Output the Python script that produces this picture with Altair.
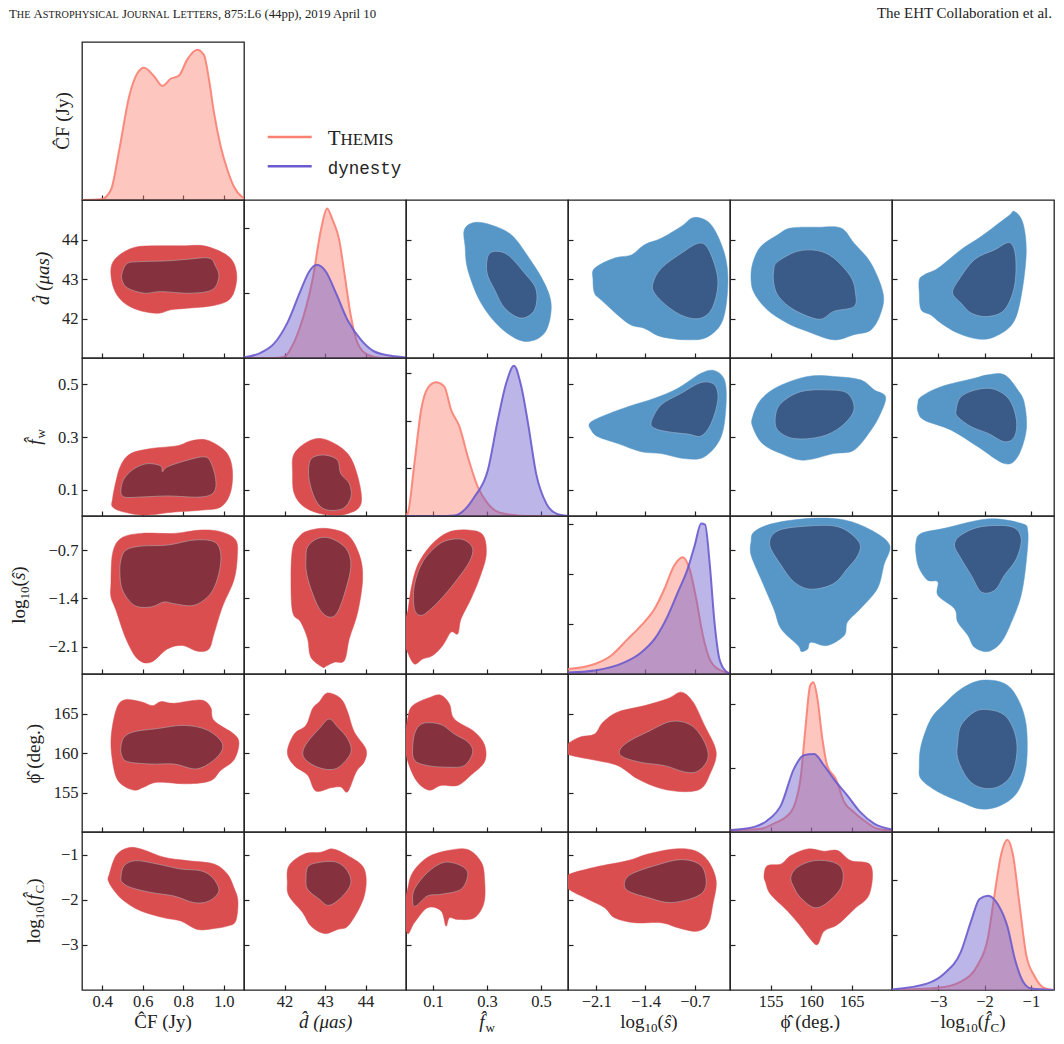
import altair as alt
import pandas as pd

# ---------------------------------------------------------------- parameters
PARAMS = ["cf", "d", "fw", "logs", "phi", "logfc"]
DOMAIN = {"cf": [0.3, 1.1], "d": [41.0, 45.0], "fw": [0.0, 0.6],
          "logs": [-2.5, -0.2], "phi": [150.0, 170.0], "logfc": [-4.0, -0.5]}
TICKS = {"cf": [0.4, 0.6, 0.8, 1.0], "d": [42, 43, 44], "fw": [0.1, 0.3, 0.5],
         "logs": [-2.1, -1.4, -0.7], "phi": [155, 160, 165], "logfc": [-3, -2, -1]}
FMT = {"cf": ".1f", "d": "d", "fw": ".1f", "logs": ".1f", "phi": "d", "logfc": "d"}
DENS_DOMAIN = {"cf": [0, 2.45], "d": [0, 1.215], "fw": [0, 6.63],
               "logs": [0, 3.15], "phi": [0, 0.247], "logfc": [0, 1.44]}
DENS_TICKS = {"cf": [], "d": [0.5, 1.0], "fw": [2, 4, 6], "logs": [1, 2, 3],
              "phi": [0.1, 0.2], "logfc": [0.5, 1.0]}

# ---------------------------------------------------------------- 1D marginals
KDE_CF_THEMIS = [(0.30, 0.0), (0.394, 0.01), (0.443, 0.16), (0.484, 0.78), (0.533, 1.61),
                 (0.574, 1.97), (0.606, 2.05), (0.656, 1.92), (0.697, 1.77), (0.738, 1.88),
                 (0.779, 1.93), (0.82, 2.18), (0.869, 2.33), (0.902, 2.25), (0.927, 1.87),
                 (0.952, 1.35), (0.985, 0.83), (1.018, 0.47), (1.05, 0.21), (1.09, 0.05), (1.10, 0.03)]
KDE_D_THEMIS = [(41.0, 0.0), (41.74, 0.0), (42.0, 0.01), (42.16, 0.075), (42.36, 0.217),
                (42.69, 0.60), (42.90, 0.986), (43.05, 1.15), (43.19, 1.06), (43.35, 0.91),
                (43.48, 0.65), (43.64, 0.32), (43.81, 0.11), (44.05, 0.025), (44.4, 0.0), (45.0, 0.0)]
KDE_D_DYNESTY = [(41.0, 0.005), (41.41, 0.04), (41.74, 0.11), (42.07, 0.27), (42.40, 0.52),
                 (42.61, 0.665), (42.80, 0.717), (43.02, 0.665), (43.27, 0.50), (43.56, 0.29),
                 (43.89, 0.14), (44.22, 0.05), (44.63, 0.017), (45.0, 0.004)]
KDE_FW_THEMIS = [(0.0, 0.05), (0.006, 0.1), (0.031, 2.2), (0.056, 4.45), (0.08, 5.36),
                 (0.111, 5.61), (0.142, 5.43), (0.167, 4.45), (0.198, 3.75), (0.229, 2.48),
                 (0.266, 1.22), (0.303, 0.52), (0.34, 0.17), (0.39, 0.05), (0.45, 0.0), (0.6, 0.0)]
KDE_FW_DYNESTY = [(0.0, 0.0), (0.10, 0.0), (0.15, 0.005), (0.18, 0.02), (0.22, 0.3),
                  (0.253, 0.8), (0.303, 1.92), (0.34, 4.03), (0.371, 5.57), (0.40, 6.30),
                  (0.427, 5.43), (0.452, 3.89), (0.482, 1.78), (0.52, 0.52), (0.557, 0.1), (0.6, 0.0)]
KDE_LOGS_THEMIS = [(-2.5, 0.1), (-2.12, 0.2), (-1.886, 0.37), (-1.65, 0.70), (-1.46, 0.97),
                   (-1.27, 1.30), (-1.13, 1.70), (-0.99, 2.17), (-0.87, 2.33), (-0.775, 2.10),
                   (-0.68, 1.50), (-0.585, 0.77), (-0.49, 0.30), (-0.37, 0.10), (-0.2, 0.02)]
KDE_LOGS_DYNESTY = [(-2.5, 0.03), (-2.12, 0.07), (-1.70, 0.23), (-1.46, 0.43), (-1.27, 0.70),
                    (-1.08, 1.17), (-0.94, 1.63), (-0.80, 2.10), (-0.70, 2.57), (-0.61, 3.0),
                    (-0.553, 2.98), (-0.49, 2.23), (-0.42, 1.03), (-0.35, 0.30), (-0.255, 0.05), (-0.2, 0.01)]
KDE_PHI_THEMIS = [(150.1, 0.003), (153.8, 0.005), (155.4, 0.013), (157.5, 0.031), (158.7, 0.083),
                  (159.3, 0.161), (159.9, 0.229), (160.3, 0.234), (160.8, 0.208), (161.4, 0.146),
                  (162.0, 0.104), (163.05, 0.083), (164.1, 0.047), (165.3, 0.031), (166.75, 0.016),
                  (168.2, 0.005), (170.0, 0.002)]
KDE_PHI_DYNESTY = [(150.1, 0.003), (153.0, 0.008), (154.6, 0.018), (156.3, 0.042), (157.9, 0.099),
                   (159.1, 0.12), (160.4, 0.122), (161.6, 0.104), (162.8, 0.083), (164.5, 0.057),
                   (166.1, 0.031), (167.8, 0.013), (170.0, 0.004)]
KDE_FC_THEMIS = [(-4.0, 0.0), (-3.01, 0.02), (-2.51, 0.077), (-2.145, 0.23), (-1.93, 0.47),
                 (-1.785, 0.87), (-1.64, 1.24), (-1.51, 1.37), (-1.39, 1.24), (-1.245, 0.78),
                 (-1.10, 0.32), (-0.92, 0.126), (-0.70, 0.016), (-0.5, 0.0)]
KDE_FC_DYNESTY = [(-4.0, 0.005), (-3.23, 0.06), (-2.87, 0.15), (-2.51, 0.35), (-2.29, 0.63),
                  (-2.11, 0.83), (-1.93, 0.86), (-1.71, 0.78), (-1.50, 0.57), (-1.35, 0.29),
                  (-1.17, 0.077), (-0.99, 0.013), (-0.5, 0.0)]

# ---------------------------------------------------------------- THEMIS credible regions (x = column, y = row)
TH_D_CF_OUT = [(0.443, 43.27), (0.476, 43.57), (0.558, 43.80), (0.673, 43.84), (0.796, 43.84), (0.902, 43.84),
               (1.001, 43.65), (1.05, 43.40), (1.064, 42.98), (1.034, 42.51), (0.952, 42.33), (0.82, 42.26),
               (0.738, 42.22), (0.673, 42.13), (0.574, 42.22), (0.50, 42.43), (0.456, 42.77)]
TH_D_CF_IN = [(0.50, 43.19), (0.525, 43.40), (0.591, 43.44), (0.722, 43.46), (0.82, 43.50), (0.927, 43.53),
              (0.96, 43.32), (0.976, 43.06), (0.944, 42.73), (0.837, 42.64), (0.689, 42.68), (0.607, 42.64),
              (0.525, 42.77), (0.497, 42.98)]
TH_FW_CF_OUT = [(0.451, 0.066), (0.467, 0.13), (0.492, 0.193), (0.541, 0.237), (0.64, 0.256), (0.771, 0.267),
                (0.837, 0.285), (0.919, 0.288), (1.01, 0.244), (1.042, 0.18), (1.034, 0.091), (0.985, 0.034),
                (0.886, 0.022), (0.755, 0.015), (0.607, 0.003), (0.508, 0.015), (0.451, 0.034)]
TH_FW_CF_IN = [(0.492, 0.098), (0.508, 0.142), (0.558, 0.18), (0.624, 0.199), (0.689, 0.19), (0.697, 0.168),
               (0.722, 0.187), (0.82, 0.212), (0.902, 0.225), (0.935, 0.206), (0.96, 0.142), (0.952, 0.091),
               (0.886, 0.072), (0.722, 0.076), (0.591, 0.072), (0.508, 0.072)]
TH_LOGS_CF_OUT = [(0.443, -1.184), (0.451, -0.746), (0.492, -0.526), (0.591, -0.453), (0.755, -0.453),
                  (0.886, -0.404), (0.985, -0.428), (1.059, -0.55), (1.067, -0.794), (1.05, -1.135),
                  (0.993, -1.525), (0.952, -1.915), (0.927, -2.135), (0.87, -2.168), (0.796, -2.085),
                  (0.722, -2.135), (0.64, -2.33), (0.574, -2.28), (0.517, -1.988), (0.468, -1.573), (0.443, -1.379)]
TH_LOGS_CF_IN = [(0.492, -0.842), (0.517, -0.696), (0.591, -0.637), (0.722, -0.623), (0.853, -0.55),
                 (0.952, -0.575), (0.985, -0.746), (0.976, -1.038), (0.935, -1.33), (0.853, -1.50),
                 (0.755, -1.477), (0.705, -1.452), (0.64, -1.525), (0.558, -1.50), (0.50, -1.28), (0.487, -1.038)]
TH_PHI_CF_OUT = [(0.443, 161.6), (0.468, 165.4), (0.508, 166.7), (0.591, 166.5), (0.648, 166.0), (0.689, 166.5),
                 (0.755, 166.3), (0.886, 166.7), (0.935, 165.8), (0.952, 164.1), (1.05, 162.4), (1.075, 161.2),
                 (1.05, 159.1), (0.985, 157.8), (0.935, 156.5), (0.82, 156.1), (0.673, 156.3), (0.607, 155.7),
                 (0.558, 155.3), (0.492, 156.1), (0.459, 157.8)]
TH_PHI_CF_IN = [(0.492, 160.8), (0.508, 162.0), (0.558, 162.7), (0.673, 163.1), (0.804, 163.5), (0.919, 162.9),
                (0.993, 161.2), (0.968, 159.5), (0.87, 158.0), (0.755, 158.6), (0.64, 158.6), (0.525, 158.9),
                (0.496, 159.7)]
TH_FC_CF_OUT = [(0.435, -1.433), (0.468, -1.022), (0.525, -0.853), (0.591, -0.875), (0.705, -1.06), (0.82, -1.134),
                (0.952, -1.21), (1.018, -1.433), (1.05, -1.73), (1.07, -2.03), (1.059, -2.473), (1.018, -2.585),
                (0.952, -2.638), (0.87, -2.66), (0.788, -2.473), (0.705, -2.40), (0.591, -2.25), (0.508, -2.03),
                (0.459, -1.80), (0.43, -1.58)]
TH_FC_CF_IN = [(0.492, -1.507), (0.508, -1.246), (0.566, -1.134), (0.673, -1.21), (0.788, -1.32), (0.886, -1.357),
               (0.944, -1.507), (0.976, -1.80), (0.927, -2.03), (0.853, -2.065), (0.755, -1.92), (0.64, -1.84),
               (0.541, -1.73), (0.50, -1.62)]
TH_FW_D_OUT = [(42.20, 0.161), (42.24, 0.237), (42.65, 0.288), (43.06, 0.288), (43.56, 0.237), (43.81, 0.149),
               (43.89, 0.047), (43.56, 0.009), (42.98, 0.006), (42.49, 0.034), (42.24, 0.085)]
TH_FW_D_IN = [(42.61, 0.199), (42.73, 0.225), (43.02, 0.231), (43.31, 0.212), (43.39, 0.161), (43.60, 0.123),
              (43.64, 0.072), (43.44, 0.028), (43.02, 0.024), (42.77, 0.06), (42.61, 0.136)]
TH_LOGS_D_OUT = [(42.20, -0.673), (42.36, -0.502), (42.57, -0.418), (43.02, -0.38), (43.56, -0.477),
                 (43.85, -0.769), (43.93, -1.111), (43.81, -1.598), (43.60, -1.988), (43.48, -2.304),
                 (43.23, -2.329), (43.02, -2.387), (42.94, -2.40), (42.65, -2.256), (42.57, -1.988),
                 (42.40, -1.744), (42.20, -1.598), (42.16, -1.111)]
TH_LOGS_D_IN = [(42.53, -0.819), (42.57, -0.648), (42.82, -0.526), (43.15, -0.526), (43.52, -0.673),
                (43.64, -0.915), (43.52, -1.257), (43.31, -1.598), (43.10, -1.671), (42.86, -1.55),
                (42.65, -1.257), (42.54, -1.013)]
TH_PHI_D_OUT = [(42.07, 160.1), (42.24, 162.4), (42.53, 163.5), (42.69, 165.6), (42.86, 166.5), (43.06, 167.6),
                (43.39, 166.9), (43.56, 165.2), (43.72, 162.7), (44.01, 160.5), (43.97, 158.9), (43.77, 157.6),
                (43.56, 155.1), (43.39, 155.7), (43.15, 155.6), (42.77, 155.2), (42.57, 157.2), (42.24, 158.4)]
TH_PHI_D_IN = [(42.45, 160.1), (42.57, 161.4), (42.86, 163.1), (43.10, 164.3), (43.31, 163.3), (43.56, 161.8),
               (43.64, 160.1), (43.39, 158.4), (43.15, 157.9), (42.82, 158.2), (42.53, 159.1)]
TH_FC_D_OUT = [(42.11, -1.246), (42.49, -0.987), (42.90, -0.95), (43.19, -0.875), (43.56, -1.022), (43.97, -1.321),
               (43.97, -1.915), (43.60, -2.55), (43.31, -2.66), (42.98, -2.75), (42.65, -2.585), (42.45, -2.288),
               (42.11, -1.915), (42.07, -1.62)]
TH_FC_D_IN = [(42.53, -1.545), (42.57, -1.283), (42.77, -1.187), (43.23, -1.156), (43.52, -1.321), (43.64, -1.62),
              (43.44, -1.915), (43.10, -2.125), (42.86, -1.99), (42.57, -1.77)]
TH_LOGS_FW_OUT = [(0.006, -1.598), (0.019, -1.257), (0.043, -0.915), (0.093, -0.623), (0.155, -0.439),
                  (0.229, -0.404), (0.285, -0.477), (0.297, -0.769), (0.272, -1.111), (0.241, -1.403),
                  (0.204, -1.696), (0.192, -1.915), (0.167, -1.89), (0.136, -2.085), (0.099, -2.231),
                  (0.062, -2.281), (0.031, -2.354), (0.006, -2.183), (-0.01, -2.0), (-0.01, -1.75)]
TH_LOGS_FW_IN = [(0.031, -1.55), (0.031, -1.208), (0.062, -0.867), (0.118, -0.623), (0.167, -0.541),
                 (0.216, -0.55), (0.247, -0.673), (0.235, -0.867), (0.192, -1.111), (0.142, -1.354),
                 (0.093, -1.55), (0.056, -1.647)]
TH_PHI_FW_OUT = [(-0.005, 161.0), (0.006, 164.3), (0.025, 166.0), (0.093, 167.1), (0.13, 167.3), (0.161, 166.2),
                 (0.179, 164.3), (0.253, 162.7), (0.291, 161.0), (0.291, 158.9), (0.241, 157.2), (0.192, 155.9),
                 (0.13, 155.9), (0.086, 155.3), (0.043, 156.3), (0.012, 158.4)]
TH_PHI_FW_IN = [(0.025, 161.0), (0.037, 162.9), (0.068, 163.8), (0.13, 163.6), (0.179, 162.4), (0.229, 161.4),
                (0.247, 160.1), (0.216, 158.4), (0.155, 158.2), (0.08, 158.4), (0.031, 159.1)]
TH_FC_FW_OUT = [(0.006, -1.768), (0.025, -1.395), (0.08, -1.06), (0.155, -0.911), (0.229, -0.889),
                (0.279, -1.172), (0.291, -1.545), (0.289, -2.065), (0.253, -2.40), (0.192, -2.437),
                (0.161, -2.40), (0.148, -2.585), (0.13, -2.25), (0.08, -2.176), (0.031, -2.51),
                (0.006, -2.75), (-0.01, -2.3)]
TH_FC_FW_IN = [(0.025, -2.065), (0.031, -1.768), (0.08, -1.395), (0.142, -1.172), (0.204, -1.246),
               (0.229, -1.433), (0.204, -1.768), (0.13, -1.88), (0.08, -1.915), (0.037, -2.138)]
TH_PHI_LOGS_OUT = [(-2.52, 161.0), (-2.335, 162.0), (-2.123, 162.4), (-2.004, 163.9), (-1.79, 165.2),
                   (-1.41, 166.0), (-1.08, 166.9), (-0.893, 167.7), (-0.727, 166.5), (-0.562, 163.5),
                   (-0.396, 160.1), (-0.491, 157.2), (-0.61, 155.5), (-0.846, 155.1), (-1.177, 155.5),
                   (-1.507, 156.7), (-1.79, 158.4), (-2.123, 159.1), (-2.52, 159.9)]
TH_PHI_LOGS_IN = [(-1.768, 160.3), (-1.649, 161.4), (-1.365, 162.7), (-1.035, 164.0), (-0.75, 163.5),
                  (-0.562, 161.4), (-0.514, 159.3), (-0.656, 157.7), (-0.846, 157.6), (-1.13, 158.4),
                  (-1.46, 158.8), (-1.72, 159.5)]
TH_FC_LOGS_OUT = [(-2.52, -1.47), (-2.123, -1.283), (-1.649, -1.134), (-1.365, -0.987), (-0.988, -0.875),
                  (-0.704, -0.911), (-0.514, -1.134), (-0.396, -1.58), (-0.443, -2.103), (-0.514, -2.55),
                  (-0.68, -2.70), (-0.94, -2.62), (-1.177, -2.51), (-1.555, -2.51), (-1.839, -2.40),
                  (-1.98, -2.176), (-2.216, -1.99), (-2.52, -1.73)]
TH_FC_LOGS_IN = [(-1.697, -1.62), (-1.602, -1.433), (-1.27, -1.246), (-0.893, -1.112), (-0.61, -1.246),
                 (-0.539, -1.656), (-0.656, -1.915), (-1.035, -2.065), (-1.365, -1.953), (-1.649, -1.804)]
TH_FC_PHI_OUT = [(154.2, -1.47), (154.6, -1.246), (156.3, -1.21), (157.5, -1.022), (159.6, -0.875),
                 (161.6, -0.926), (163.3, -0.911), (164.9, -1.134), (167.4, -1.246), (167.2, -1.88),
                 (165.3, -2.214), (163.3, -2.55), (161.6, -2.70), (160.8, -2.995), (159.8, -2.846),
                 (158.7, -2.585), (157.1, -2.25), (155.0, -1.88), (154.4, -1.62)]
TH_FC_PHI_IN = [(157.5, -1.507), (158.3, -1.283), (160.4, -1.134), (162.8, -1.172), (163.9, -1.357),
                (163.7, -1.73), (162.0, -2.065), (160.4, -2.176), (158.7, -1.953), (157.9, -1.73)]

# ---------------------------------------------------------------- dynesty credible regions (x = column, y = row)
DY_D_FW_OUT = [(0.216, 44.25), (0.253, 44.43), (0.315, 44.37), (0.39, 44.12), (0.452, 43.57), (0.513, 42.89),
               (0.538, 42.30), (0.513, 41.63), (0.439, 41.42), (0.353, 41.75), (0.278, 42.39), (0.229, 43.23),
               (0.219, 43.82)]
DY_D_FW_IN = [(0.303, 43.57), (0.328, 43.70), (0.377, 43.61), (0.439, 43.15), (0.482, 42.73), (0.476, 42.22),
              (0.427, 42.01), (0.366, 42.26), (0.328, 42.73), (0.30, 43.15)]
DY_D_LOGS_OUT = [(-2.145, 42.98), (-2.123, 43.27), (-1.839, 43.53), (-1.60, 43.61), (-1.413, 43.87),
                 (-1.177, 44.03), (-0.893, 44.33), (-0.704, 44.56), (-0.467, 44.37), (-0.279, 43.65),
                 (-0.23, 42.89), (-0.301, 41.97), (-0.514, 41.54), (-0.798, 41.46), (-1.177, 41.54),
                 (-1.413, 41.75), (-1.649, 41.88), (-2.028, 42.47), (-2.123, 42.64)]
DY_D_LOGS_IN = [(-1.295, 42.89), (-1.177, 43.27), (-0.893, 43.65), (-0.633, 43.91), (-0.491, 43.70),
                (-0.372, 42.98), (-0.443, 42.30), (-0.61, 42.01), (-0.846, 42.05), (-1.082, 42.30), (-1.271, 42.64)]
DY_D_PHI_OUT = [(152.8, 43.40), (153.8, 43.82), (155.9, 44.12), (157.5, 44.29), (160.8, 44.31), (163.7, 44.29),
                (165.3, 43.91), (167.4, 43.40), (168.9, 42.64), (168.6, 42.13), (167.4, 41.71), (165.3, 41.59),
                (162.8, 41.46), (159.6, 41.67), (157.1, 41.88), (154.6, 42.22), (153.0, 42.64), (152.6, 42.98)]
DY_D_PHI_IN = [(155.4, 43.23), (155.9, 43.44), (158.3, 43.70), (160.8, 43.72), (162.8, 43.53), (164.9, 43.06),
               (165.5, 42.64), (165.3, 42.30), (162.8, 42.18), (161.0, 41.98), (157.9, 42.22), (156.0, 42.56),
               (155.4, 42.89)]
DY_D_FC_OUT = [(-3.41, 42.98), (-3.30, 43.11), (-3.01, 43.27), (-2.51, 43.74), (-2.07, 44.08), (-1.50, 44.58),
               (-1.355, 44.71), (-1.17, 44.41), (-1.10, 43.65), (-1.21, 42.56), (-1.39, 41.88), (-1.78, 41.54),
               (-2.14, 41.48), (-2.58, 41.63), (-2.94, 41.88), (-3.16, 42.09), (-3.37, 42.22), (-3.41, 42.64)]
DY_D_FC_IN = [(-2.69, 42.64), (-2.58, 42.94), (-2.22, 43.49), (-1.78, 43.74), (-1.46, 43.92), (-1.33, 43.57),
              (-1.355, 42.81), (-1.57, 42.22), (-1.93, 42.05), (-2.28, 42.13), (-2.51, 42.39)]
DY_FW_LOGS_OUT = [(-2.193, 0.352), (-2.028, 0.377), (-1.649, 0.415), (-1.271, 0.447), (-0.94, 0.485),
                  (-0.61, 0.542), (-0.42, 0.552), (-0.279, 0.517), (-0.255, 0.428), (-0.326, 0.301),
                  (-0.562, 0.225), (-0.846, 0.218), (-1.177, 0.237), (-1.46, 0.244), (-1.79, 0.275),
                  (-2.074, 0.301), (-2.17, 0.326)]
DY_FW_LOGS_IN = [(-1.318, 0.358), (-1.177, 0.422), (-0.893, 0.466), (-0.61, 0.507), (-0.42, 0.498),
                 (-0.372, 0.441), (-0.467, 0.352), (-0.61, 0.304), (-0.798, 0.311), (-1.082, 0.32), (-1.271, 0.333)]
DY_FW_PHI_OUT = [(152.8, 0.377), (153.8, 0.441), (155.9, 0.491), (159.6, 0.53), (162.8, 0.53), (166.1, 0.517),
                 (167.8, 0.479), (169.2, 0.453), (168.6, 0.39), (167.4, 0.326), (165.3, 0.25), (162.8, 0.237),
                 (159.1, 0.212), (156.3, 0.237), (154.0, 0.275), (152.8, 0.339)]
DY_FW_PHI_IN = [(155.6, 0.377), (156.3, 0.428), (158.7, 0.472), (162.0, 0.479), (164.5, 0.466), (165.3, 0.403),
                (163.7, 0.339), (161.2, 0.301), (157.9, 0.294), (155.9, 0.326)]
DY_FW_FC_OUT = [(-3.44, 0.428), (-3.37, 0.453), (-2.94, 0.491), (-2.22, 0.523), (-1.93, 0.536), (-1.57, 0.536),
                (-1.285, 0.479), (-1.14, 0.428), (-1.10, 0.326), (-1.285, 0.225), (-1.57, 0.199),
                (-2.145, 0.263), (-2.72, 0.326), (-3.30, 0.364), (-3.44, 0.396)]
DY_FW_FC_IN = [(-2.615, 0.403), (-2.51, 0.453), (-2.145, 0.481), (-1.78, 0.481), (-1.46, 0.441), (-1.31, 0.364),
               (-1.355, 0.301), (-1.57, 0.282), (-1.93, 0.314), (-2.29, 0.339), (-2.58, 0.377)]
DY_LOGS_PHI_OUT = [(152.6, -0.575), (153.0, -0.428), (155.4, -0.307), (160.0, -0.234), (164.1, -0.257),
                   (167.4, -0.404), (169.7, -0.623), (169.0, -0.915), (168.2, -1.257), (166.1, -1.55),
                   (164.5, -1.744), (164.1, -1.939), (162.0, -2.085), (160.0, -2.037), (159.6, -2.135),
                   (158.8, -2.173), (158.4, -2.085), (156.3, -1.842), (155.4, -1.55), (153.8, -1.111),
                   (152.6, -0.769)]
DY_LOGS_PHI_IN = [(154.9, -0.623), (155.7, -0.428), (158.6, -0.355), (163.3, -0.355), (165.9, -0.575),
                  (165.8, -0.769), (164.5, -0.965), (162.8, -1.184), (160.0, -1.266), (157.9, -1.159),
                  (156.3, -0.915)]
DY_LOGS_FC_OUT = [(-3.48, -0.575), (-3.37, -0.453), (-2.87, -0.38), (-1.93, -0.243), (-1.21, -0.307),
                  (-1.065, -0.428), (-1.10, -0.867), (-1.21, -1.354), (-1.42, -1.744), (-1.64, -2.037),
                  (-1.93, -2.173), (-2.22, -2.11), (-2.36, -1.939), (-2.58, -1.744), (-2.65, -1.55),
                  (-3.01, -1.354), (-3.01, -1.159), (-3.23, -1.135), (-3.41, -0.965), (-3.48, -0.769)]
DY_LOGS_FC_IN = [(-2.65, -0.623), (-2.51, -0.477), (-2.07, -0.355), (-1.42, -0.355), (-1.21, -0.526),
                 (-1.31, -0.819), (-1.57, -1.061), (-1.78, -1.28), (-2.07, -1.306), (-2.29, -1.061), (-2.51, -0.819)]
DY_PHI_FC_OUT = [(-3.37, 161.0), (-3.16, 164.3), (-2.87, 166.2), (-2.51, 168.1), (-2.07, 169.2), (-1.57, 168.8),
                 (-1.285, 166.9), (-1.10, 163.5), (-1.10, 158.4), (-1.285, 155.1), (-1.64, 153.4),
                 (-2.07, 152.9), (-2.51, 153.8), (-3.01, 155.1), (-3.37, 156.7), (-3.41, 158.4)]
DY_PHI_FC_IN = [(-2.58, 161.4), (-2.51, 163.5), (-2.22, 165.2), (-1.93, 165.5), (-1.57, 164.8), (-1.355, 162.7),
                (-1.30, 160.1), (-1.42, 157.2), (-1.715, 155.7), (-2.07, 155.6), (-2.36, 156.7), (-2.58, 159.3)]

LOWER = {
    (1, 0): (TH_D_CF_OUT, TH_D_CF_IN), (2, 0): (TH_FW_CF_OUT, TH_FW_CF_IN),
    (3, 0): (TH_LOGS_CF_OUT, TH_LOGS_CF_IN), (4, 0): (TH_PHI_CF_OUT, TH_PHI_CF_IN),
    (5, 0): (TH_FC_CF_OUT, TH_FC_CF_IN), (2, 1): (TH_FW_D_OUT, TH_FW_D_IN),
    (3, 1): (TH_LOGS_D_OUT, TH_LOGS_D_IN), (4, 1): (TH_PHI_D_OUT, TH_PHI_D_IN),
    (5, 1): (TH_FC_D_OUT, TH_FC_D_IN), (3, 2): (TH_LOGS_FW_OUT, TH_LOGS_FW_IN),
    (4, 2): (TH_PHI_FW_OUT, TH_PHI_FW_IN), (5, 2): (TH_FC_FW_OUT, TH_FC_FW_IN),
    (4, 3): (TH_PHI_LOGS_OUT, TH_PHI_LOGS_IN), (5, 3): (TH_FC_LOGS_OUT, TH_FC_LOGS_IN),
    (5, 4): (TH_FC_PHI_OUT, TH_FC_PHI_IN),
}
UPPER = {
    (1, 2): (DY_D_FW_OUT, DY_D_FW_IN), (1, 3): (DY_D_LOGS_OUT, DY_D_LOGS_IN),
    (1, 4): (DY_D_PHI_OUT, DY_D_PHI_IN), (1, 5): (DY_D_FC_OUT, DY_D_FC_IN),
    (2, 3): (DY_FW_LOGS_OUT, DY_FW_LOGS_IN), (2, 4): (DY_FW_PHI_OUT, DY_FW_PHI_IN),
    (2, 5): (DY_FW_FC_OUT, DY_FW_FC_IN), (3, 4): (DY_LOGS_PHI_OUT, DY_LOGS_PHI_IN),
    (3, 5): (DY_LOGS_FC_OUT, DY_LOGS_FC_IN), (4, 5): (DY_PHI_FC_OUT, DY_PHI_FC_IN),
}

# ---------------------------------------------------------------- styling
SERIF = "Liberation Serif"
MONO = "Liberation Mono"
INK = "#222222"
SALMON = "#fa8072"
SLATE = "#6a5acd"
RED_OUT, RED_IN, RED_EDGE = "#da4e50", "#85323e", "#b89a9e"
BLUE_OUT, BLUE_IN, BLUE_EDGE = "#5697c8", "#3a5a88", "#8fb0cf"
W, H = 162, 158

DIAG = {
    0: [(KDE_CF_THEMIS, SALMON)],
    1: [(KDE_D_THEMIS, SALMON), (KDE_D_DYNESTY, SLATE)],
    2: [(KDE_FW_THEMIS, SALMON), (KDE_FW_DYNESTY, SLATE)],
    3: [(KDE_LOGS_THEMIS, SALMON), (KDE_LOGS_DYNESTY, SLATE)],
    4: [(KDE_PHI_THEMIS, SALMON), (KDE_PHI_DYNESTY, SLATE)],
    5: [(KDE_FC_THEMIS, SALMON), (KDE_FC_DYNESTY, SLATE)],
}

# Times-metric advance widths (em) for laying out mixed-size text runs
TIMES_W = {' ': .25, '(': .333, ')': .333, '.': .25, ',': .25, ':': .278, '\u0302': 0.0,
           'Ĉ': .667, 'ŝ': .389, 'μ': .5, 'ϕ': .6}
TIMES_W.update({c: .5 for c in "0123456789"})
TIMES_W.update(dict(zip("ABCDEFGHIJKLMNOPQRSTUVWXYZ",
                        [.722, .667, .667, .722, .611, .556, .722, .722, .333, .389, .722, .611, .889,
                         .722, .722, .556, .722, .667, .556, .611, .722, .722, .944, .722, .722, .611])))
TIMES_W.update(dict(zip("abcdefghijklmnopqrstuvwxyz",
                        [.444, .5, .444, .5, .444, .333, .5, .5, .278, .278, .5, .278, .778,
                         .5, .5, .5, .5, .333, .389, .278, .5, .5, .722, .5, .5, .444])))

TITLE_PARTS = {
    "cf": [("ĈF (Jy)", 19, 0, "normal")],
    "d": [("d\u0302 (μas)", 19, 0, "italic")],
    "fw": [("f\u0302", 19, 0, "italic"), ("w", 13, 4, "normal")],
    "logs": [("log", 19, 0, "normal"), ("10", 13, 4, "normal"), ("(", 19, 0, "normal"),
             ("ŝ", 19, 0, "italic"), (")", 19, 0, "normal")],
    "phi": [("ϕ\u0302 (deg.)", 19, 0, "normal")],
    "logfc": [("log", 19, 0, "normal"), ("10", 13, 4, "normal"), ("(", 19, 0, "normal"),
              ("f\u0302", 19, 0, "italic"), ("C", 13, 4, "normal"), (")", 19, 0, "normal")],
}
Y_TITLE_X = {0: -13.5, 1: -33, 2: -41, 3: -57, 4: -42, 5: -42}
X_TITLE_Y = 196

ONE = pd.DataFrame({"k": [0]})


def run_width(text, size):
    return sum(TIMES_W.get(c, 0.5) for c in text) * size


def text_runs(parts, x, y, angle=0, anchor="center", font=SERIF):
    total = sum(run_width(p[0], p[1]) for p in parts)
    pos = {"center": -total / 2, "left": 0.0, "right": -total}[anchor]
    marks = []
    for text, size, dy, style in parts:
        px, py = (x + pos, y) if angle == 0 else (x, y - pos)
        marks.append(
            alt.Chart(ONE).mark_text(text=text, font=font, fontSize=size, fontStyle=style, dy=dy,
                                     align="left", baseline="alphabetic", angle=angle, color=INK)
            .encode(x=alt.value(px), y=alt.value(py)))
        pos += run_width(text, size)
    return marks


AXIS_STYLE = dict(title=None, domain=False, grid=False, ticks=True, tickSize=5, offset=-5,
                  tickColor=INK, tickWidth=1.2, labelFont=SERIF, labelFontSize=16.5,
                  labelColor=INK, labelOverlap=False)


def x_enc(i, j):
    v = PARAMS[j]
    ax = alt.Axis(values=TICKS[v], format=FMT[v], labels=(i == 5), labelPadding=3, **AXIS_STYLE)
    return alt.X("x:Q", scale=alt.Scale(domain=DOMAIN[v], nice=False, zero=False), axis=ax)


def y_enc(i, j):
    if i == j:
        v = PARAMS[i]
        ax = (alt.Axis(values=DENS_TICKS[v], labels=False, **AXIS_STYLE) if DENS_TICKS[v] else None)
        return alt.Y("y:Q", scale=alt.Scale(domain=DENS_DOMAIN[v], nice=False, zero=False), axis=ax)
    v = PARAMS[i]
    ax = alt.Axis(values=TICKS[v], format=FMT[v], labels=(j == 0), labelPadding=4, **AXIS_STYLE)
    return alt.Y("y:Q", scale=alt.Scale(domain=DOMAIN[v], nice=False, zero=False), axis=ax)


def region(points, fill, edge, width, i, j):
    df = pd.DataFrame(points, columns=["x", "y"])
    df["k"] = range(len(df))
    return alt.Chart(df).mark_line(
        interpolate="cardinal-closed", fill=fill, stroke=edge, strokeWidth=width, clip=True
    ).encode(x=x_enc(i, j), y=y_enc(i, j), order=alt.Order("k:Q"))


def marginal(points, color, i):
    df = pd.DataFrame(points, columns=["x", "y"])
    return alt.Chart(df).mark_area(
        interpolate="monotone", fill=color, fillOpacity=0.45, clip=True,
        line=alt.OverlayMarkDef(color=color, strokeWidth=2, opacity=0.9)
    ).encode(x=x_enc(i, i), y=y_enc(i, i))


def header_layers():
    big, small = 12.8, 10.2
    parts = [("T", big, 0, "normal"), ("HE", small, 0, "normal"), (" ", big, 0, "normal"),
             ("A", big, 0, "normal"), ("STROPHYSICAL", small, 0, "normal"), (" ", big, 0, "normal"),
             ("J", big, 0, "normal"), ("OURNAL", small, 0, "normal"), (" ", big, 0, "normal"),
             ("L", big, 0, "normal"), ("ETTERS", small, 0, "normal"),
             (", 875:L6 (44pp), 2019 April 10", big, 0, "normal")]
    return text_runs(parts, -73, -24, anchor="left")


def legend_layers():
    layers = [
        alt.Chart(ONE).mark_rule(color=SALMON, strokeWidth=2.5).encode(
            x=alt.value(23.7), x2=alt.value(67.7), y=alt.value(95)),
        alt.Chart(ONE).mark_rule(color=SLATE, strokeWidth=2.5).encode(
            x=alt.value(23.7), x2=alt.value(67.7), y=alt.value(124.3)),
    ]
    layers += text_runs([("T", 21, 0, "normal"), ("HEMIS", 17, 0, "normal")], 83.7, 103.3, anchor="left")
    layers.append(alt.Chart(ONE).mark_text(text="dynesty", font=MONO, fontSize=17.5, align="left",
                                           baseline="alphabetic", color=INK)
                  .encode(x=alt.value(83.7), y=alt.value(131.5)))
    return layers


def make_panel(i, j):
    hidden = False
    if i == 0 and j > 0:
        hidden = True
        if j == 1:
            layers = legend_layers()
        elif j == 5:
            layers = [alt.Chart(ONE).mark_text(text="The EHT Collaboration et al.", font=SERIF,
                                               fontSize=15, align="right", baseline="alphabetic",
                                               color=INK).encode(x=alt.value(160), y=alt.value(-24))]
        else:
            layers = [alt.Chart(ONE).mark_text(text=" ").encode(x=alt.value(0), y=alt.value(0))]
    elif i == j:
        layers = [marginal(pts, col, i) for pts, col in DIAG[i]]
    elif i > j:
        outer, inner = LOWER[(i, j)]
        layers = [region(outer, RED_OUT, RED_OUT, 0.5, i, j), region(inner, RED_IN, RED_EDGE, 0.7, i, j)]
    else:
        outer, inner = UPPER[(i, j)]
        layers = [region(outer, BLUE_OUT, BLUE_OUT, 0.5, i, j), region(inner, BLUE_IN, BLUE_EDGE, 0.7, i, j)]

    if i == 0 and j == 0:
        layers += header_layers()
    if j == 0:
        layers += text_runs(TITLE_PARTS[PARAMS[i]], Y_TITLE_X[i], H / 2, angle=270)
    if i == 5:
        layers += text_runs(TITLE_PARTS[PARAMS[j]], W / 2, X_TITLE_Y)

    chart = alt.layer(*layers).properties(width=W, height=H)
    if hidden:
        chart = chart.properties(view=alt.ViewBackground(strokeOpacity=0))
    return chart


panels = [make_panel(i, j) for i in range(6) for j in range(6)]

chart = (
    alt.concat(*panels, columns=6, spacing=0, bounds="flush")
    .properties(padding={"left": 8, "top": 6, "right": 4, "bottom": 4}, background="white")
    .configure_view(stroke=INK, strokeWidth=1.3)
)

chart.save("out.html", embed_options={"renderer": "svg", "actions": False})
